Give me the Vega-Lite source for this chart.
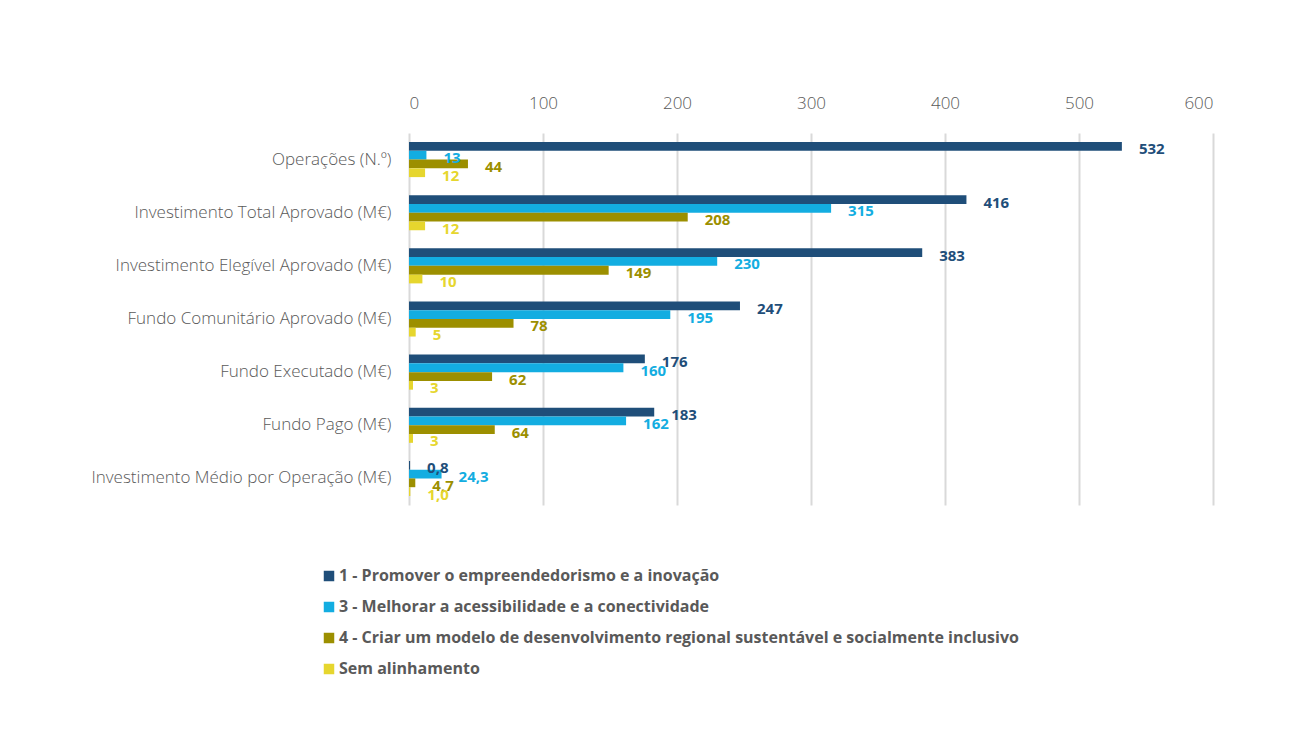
{
  "$schema": "https://vega.github.io/schema/vega-lite/v6.json",
  "autosize": "none",
  "width": 804,
  "height": 372,
  "padding": {"left": 409, "top": 133, "right": 98, "bottom": 239},
  "background": "white",
  "config": {"view": {"stroke": null}, "font": "Open Sans"},
  "data": {"values": [
    {"cat": "Operações (N.º)", "serie": "1 - Promover o empreendedorismo e a inovação", "value": 532, "label": "532"},
    {"cat": "Operações (N.º)", "serie": "3 - Melhorar a acessibilidade e a conectividade", "value": 13, "label": "13"},
    {"cat": "Operações (N.º)", "serie": "4 - Criar um modelo de desenvolvimento regional sustentável e socialmente inclusivo", "value": 44, "label": "44"},
    {"cat": "Operações (N.º)", "serie": "Sem alinhamento", "value": 12, "label": "12"},
    {"cat": "Investimento Total Aprovado (M€)", "serie": "1 - Promover o empreendedorismo e a inovação", "value": 416, "label": "416"},
    {"cat": "Investimento Total Aprovado (M€)", "serie": "3 - Melhorar a acessibilidade e a conectividade", "value": 315, "label": "315"},
    {"cat": "Investimento Total Aprovado (M€)", "serie": "4 - Criar um modelo de desenvolvimento regional sustentável e socialmente inclusivo", "value": 208, "label": "208"},
    {"cat": "Investimento Total Aprovado (M€)", "serie": "Sem alinhamento", "value": 12, "label": "12"},
    {"cat": "Investimento Elegível Aprovado (M€)", "serie": "1 - Promover o empreendedorismo e a inovação", "value": 383, "label": "383"},
    {"cat": "Investimento Elegível Aprovado (M€)", "serie": "3 - Melhorar a acessibilidade e a conectividade", "value": 230, "label": "230"},
    {"cat": "Investimento Elegível Aprovado (M€)", "serie": "4 - Criar um modelo de desenvolvimento regional sustentável e socialmente inclusivo", "value": 149, "label": "149"},
    {"cat": "Investimento Elegível Aprovado (M€)", "serie": "Sem alinhamento", "value": 10, "label": "10"},
    {"cat": "Fundo Comunitário Aprovado (M€)", "serie": "1 - Promover o empreendedorismo e a inovação", "value": 247, "label": "247"},
    {"cat": "Fundo Comunitário Aprovado (M€)", "serie": "3 - Melhorar a acessibilidade e a conectividade", "value": 195, "label": "195"},
    {"cat": "Fundo Comunitário Aprovado (M€)", "serie": "4 - Criar um modelo de desenvolvimento regional sustentável e socialmente inclusivo", "value": 78, "label": "78"},
    {"cat": "Fundo Comunitário Aprovado (M€)", "serie": "Sem alinhamento", "value": 5, "label": "5"},
    {"cat": "Fundo Executado (M€)", "serie": "1 - Promover o empreendedorismo e a inovação", "value": 176, "label": "176"},
    {"cat": "Fundo Executado (M€)", "serie": "3 - Melhorar a acessibilidade e a conectividade", "value": 160, "label": "160"},
    {"cat": "Fundo Executado (M€)", "serie": "4 - Criar um modelo de desenvolvimento regional sustentável e socialmente inclusivo", "value": 62, "label": "62"},
    {"cat": "Fundo Executado (M€)", "serie": "Sem alinhamento", "value": 3, "label": "3"},
    {"cat": "Fundo Pago (M€)", "serie": "1 - Promover o empreendedorismo e a inovação", "value": 183, "label": "183"},
    {"cat": "Fundo Pago (M€)", "serie": "3 - Melhorar a acessibilidade e a conectividade", "value": 162, "label": "162"},
    {"cat": "Fundo Pago (M€)", "serie": "4 - Criar um modelo de desenvolvimento regional sustentável e socialmente inclusivo", "value": 64, "label": "64"},
    {"cat": "Fundo Pago (M€)", "serie": "Sem alinhamento", "value": 3, "label": "3"},
    {"cat": "Investimento Médio por Operação (M€)", "serie": "1 - Promover o empreendedorismo e a inovação", "value": 0.8, "label": "0,8"},
    {"cat": "Investimento Médio por Operação (M€)", "serie": "3 - Melhorar a acessibilidade e a conectividade", "value": 24.3, "label": "24,3"},
    {"cat": "Investimento Médio por Operação (M€)", "serie": "4 - Criar um modelo de desenvolvimento regional sustentável e socialmente inclusivo", "value": 4.7, "label": "4,7"},
    {"cat": "Investimento Médio por Operação (M€)", "serie": "Sem alinhamento", "value": 1.0, "label": "1,0"}
  ]},
  "encoding": {
    "y": {
      "field": "cat", "type": "nominal", "sort": null,
      "scale": {"paddingInner": 0.34, "paddingOuter": 0.17},
      "axis": {"title": null, "orient": "left", "domain": false, "ticks": false, "labelFontSize": 17, "labelFontWeight": 300, "labelColor": "#595959", "labelPadding": 18, "labelFont": "Open Sans", "labelLimit": 400}
    },
    "yOffset": {"field": "serie", "type": "nominal", "sort": null, "scale": {"paddingInner": 0, "paddingOuter": 0}},
    "x": {
      "field": "value", "type": "quantitative",
      "scale": {"domain": [0, 600], "nice": false, "zero": true},
      "axis": {"title": null, "orient": "top", "values": [0, 100, 200, 300, 400, 500, 600], "grid": true, "gridColor": "#D9D9D9", "gridWidth": 2, "domain": false, "ticks": false, "labelFontSize": 17, "labelFontWeight": 300, "labelColor": "#595959", "labelPadding": 21, "labelFont": "Open Sans"}
    },
    "color": {
      "field": "serie", "type": "nominal", "sort": null,
      "scale": {
        "domain": ["1 - Promover o empreendedorismo e a inovação", "3 - Melhorar a acessibilidade e a conectividade", "4 - Criar um modelo de desenvolvimento regional sustentável e socialmente inclusivo", "Sem alinhamento"],
        "range": ["#1F4E79", "#13ADE1", "#9C8F00", "#E6D62E"]
      },
      "legend": {
        "title": null, "orient": "none", "legendX": -88, "legendY": 435, "direction": "vertical",
        "symbolType": "square", "symbolSize": 110, "symbolStrokeWidth": 0,
        "labelFontSize": 16, "labelFontWeight": "bold", "labelColor": "#595959", "labelFont": "Open Sans",
        "labelLimit": 900, "rowPadding": 15, "labelOffset": 2
      }
    }
  },
  "layer": [
    {"mark": {"type": "bar"}},
    {
      "mark": {"type": "text", "align": "left", "baseline": "middle", "dx": 17, "dy": 3, "fontSize": 15, "fontWeight": "bold", "font": "Open Sans"},
      "encoding": {"text": {"field": "label"}}
    }
  ]
}
